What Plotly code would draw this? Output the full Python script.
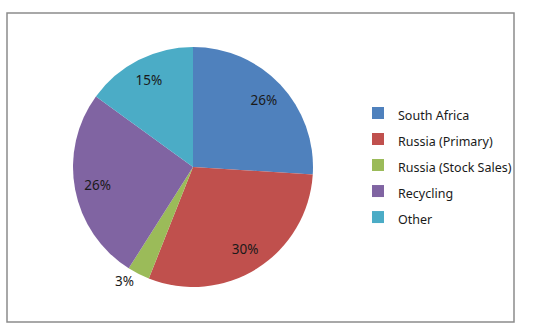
import plotly.graph_objects as go

labels = ["South Africa", "Russia (Primary)", "Russia (Stock Sales)", "Recycling", "Other"]
values = [26, 30, 3, 26, 15]
colors = ["#4F81BD", "#C0504D", "#9BBB59", "#8064A2", "#4BACC6"]
text_pos = ["inside", "inside", "outside", "inside", "inside"]

W, H = 535, 331
cx, cy, R = 193, 167, 120
domain = dict(x=[(cx - R) / W, (cx + R) / W], y=[1 - (cy + R) / H, 1 - (cy - R) / H])

# legend labels: small visible text inside a taller legend line for Excel-like spacing
legend_labels = [f"<span style='font-size:12.5px'>{l}</span>" for l in labels]

fig = go.Figure()
# coloured pie, no text
fig.add_trace(go.Pie(
    labels=legend_labels,
    values=values,
    sort=False,
    direction="clockwise",
    rotation=0,
    marker=dict(colors=colors, line=dict(color="white", width=0)),
    textinfo="none",
    hoverinfo="skip",
    domain=domain,
))
# transparent ring on top to place percentage labels near the rim (Excel best fit)
fig.add_trace(go.Pie(
    labels=legend_labels,
    values=values,
    sort=False,
    direction="clockwise",
    rotation=0,
    hole=0.62,
    marker=dict(colors=["rgba(0,0,0,0)"] * len(values), line=dict(width=0)),
    texttemplate="%{percent:.0%}",
    textposition=text_pos,
    insidetextorientation="horizontal",
    textfont=dict(family="Noto Sans", size=13.5, color="#1a1a1a"),
    showlegend=False,
    hoverinfo="skip",
    domain=domain,
))

fig.update_layout(
    width=W, height=H,
    margin=dict(l=0, r=0, t=0, b=0),
    paper_bgcolor="white",
    showlegend=True,
    legend=dict(
        x=358 / W, y=1 - 95 / H, xanchor="left", yanchor="top",
        font=dict(family="Noto Sans", size=17.7, color="#1a1a1a"),
        bgcolor="rgba(0,0,0,0)",
    ),
    shapes=[dict(type="rect", xref="paper", yref="paper",
                 x0=7 / W, x1=514 / W, y0=1 - 322 / H, y1=1 - 13 / H,
                 line=dict(color="#8c8c8c", width=1.5))],
)

fig.write_html("out.html")
